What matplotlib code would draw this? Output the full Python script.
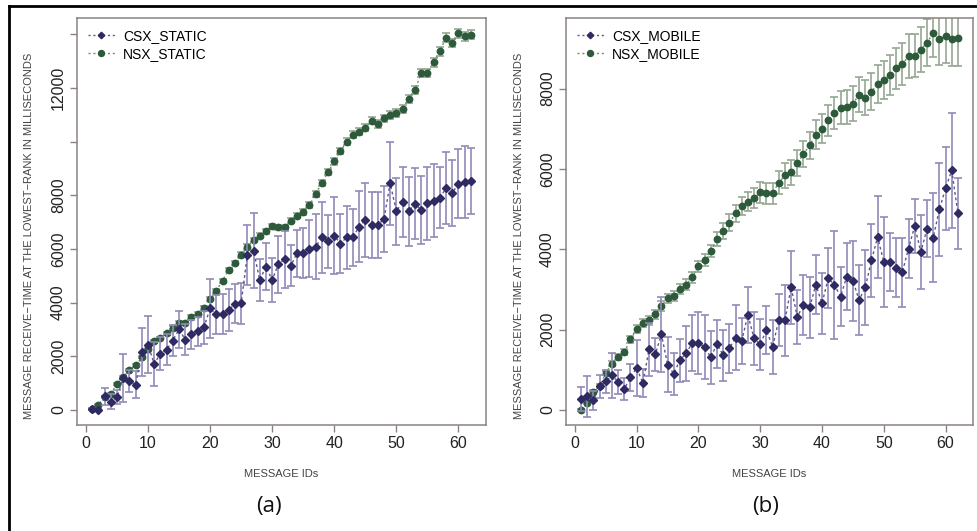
import matplotlib
matplotlib.use('Agg')
import matplotlib.pyplot as plt
from matplotlib.lines import Line2D

ids = list(range(1, 63))

csx_static = [40, 0, 500, 310, 475, 1180, 1085, 935, 2160, 2430,
              1710, 2100, 2250, 2585, 3000, 2620, 2810, 2935, 3080, 3780,
              3560, 3580, 3710, 3960, 3970, 5780, 5930, 4840, 5340, 4840,
              5430, 5620, 5370, 5840, 5840, 6000, 6080, 6430, 6280, 6490,
              6200, 6430, 6430, 6830, 7080, 6900, 6900, 7100, 8450, 7400,
              7740, 7400, 7680, 7450, 7700, 7800, 7900, 8260, 8080, 8430, 8490, 8540]
csx_static_err = [50, 50, 300, 270, 270, 900, 420, 500, 880, 1060,
                  810, 620, 560, 590, 700, 570, 530, 545, 620, 1085,
                  740, 740, 785, 730, 765, 1120, 1400, 770, 875, 830,
                  1060, 1060, 770, 875, 920, 1065, 1220, 1330, 1000, 1435,
                  1105, 1185, 1060, 1315, 1385, 1235, 1235, 1230, 1545, 1250,
                  1310, 1290, 1315, 1270, 1360, 1360, 1135, 1340, 1245, 1280, 1325, 1225]
nsx_static = [20, 200, 470, 600, 980, 1210, 1490, 1660, 1970, 2270,
              2550, 2680, 2850, 3060, 3240, 3250, 3460, 3590, 3810, 4130,
              4440, 4820, 5210, 5470, 5790, 6080, 6330, 6490, 6650, 6850,
              6800, 6800, 7050, 7240, 7370, 7640, 8050, 8450, 8860, 9260,
              9650, 9990, 10260, 10360, 10510, 10770, 10650, 10860, 10990, 11070,
              11210, 11600, 11920, 12550, 12550, 12950, 13360, 13860, 13670, 14040, 13920, 13980]
nsx_static_err = [30, 30, 30, 35, 35, 40, 40, 45, 45, 50,
                  50, 55, 55, 60, 60, 60, 65, 65, 70, 70,
                  75, 75, 80, 80, 85, 85, 90, 90, 95, 95,
                  100, 100, 100, 105, 105, 110, 110, 115, 115, 120,
                  120, 125, 125, 130, 130, 135, 135, 140, 140, 145,
                  145, 150, 150, 155, 155, 160, 160, 165, 165, 170, 170, 175]

csx_mobile = [275, 335, 240, 585, 710, 860, 695, 525, 810, 1045,
              670, 1505, 1380, 1880, 1130, 900, 1240, 1405, 1670, 1670,
              1565, 1310, 1645, 1360, 1530, 1800, 1715, 2365, 1780, 1630,
              1990, 1570, 2235, 2235, 3050, 2315, 2615, 2550, 3120, 2650,
              3275, 3120, 2820, 3320, 3220, 2735, 3050, 3720, 4305, 3680,
              3680, 3535, 3430, 4015, 4575, 3930, 4515, 4290, 4990, 5520, 5960, 4890]
csx_mobile_err = [305, 515, 240, 295, 290, 565, 290, 270, 335, 690,
                  355, 660, 420, 930, 685, 520, 535, 680, 695, 775,
                  800, 655, 590, 640, 600, 815, 570, 700, 665, 625,
                  605, 680, 655, 885, 910, 670, 740, 770, 735, 750,
                  750, 1345, 730, 830, 995, 860, 930, 920, 1030, 1120,
                  720, 735, 860, 740, 680, 920, 700, 1110, 1155, 1030, 1430, 880]
nsx_mobile = [0, 170, 445, 585, 920, 1155, 1320, 1445, 1755, 2025,
              2175, 2235, 2385, 2590, 2775, 2825, 3010, 3120, 3300, 3580,
              3740, 3955, 4265, 4455, 4665, 4890, 5075, 5185, 5265, 5420,
              5390, 5390, 5660, 5835, 5910, 6145, 6370, 6590, 6855, 7000,
              7205, 7385, 7525, 7540, 7625, 7845, 7775, 7920, 8110, 8210,
              8335, 8510, 8605, 8805, 8820, 8970, 9140, 9380, 9220, 9300, 9220, 9255]
nsx_mobile_err = [20, 30, 40, 50, 60, 70, 80, 80, 90, 100,
                  100, 110, 110, 120, 120, 125, 130, 130, 135, 135,
                  150, 160, 175, 190, 200, 215, 230, 240, 250, 265,
                  270, 270, 285, 300, 310, 320, 330, 340, 355, 365,
                  380, 395, 405, 415, 430, 440, 445, 455, 470, 480,
                  495, 510, 520, 540, 545, 560, 580, 600, 640, 660, 670, 685]

xticks = [0, 10, 20, 30, 40, 50, 60]
yticks_a = [0, 2000, 4000, 6000, 8000, 10000, 12000, 14000]
ylabels_a = ['0', '2000', '4000', '6000', '8000', '', '12000', '']
yticks_b = [0, 2000, 4000, 6000, 8000]
ylabels_b = ['0', '2000', '4000', '6000', '8000']

C_DARK = '#2e2a62'
C_DARK_ERR = '#9189b8'
C_GREEN = '#2d5a3a'
C_GREEN_ERR = '#96a892'
FRAME = '#8a8282'
RFONT = 'Liberation Sans'


def panel(ax, csx, csx_err, nsx, nsx_err, names, ylim, yticks, ylabels, tag, tag_x):
    ax.errorbar(ids, nsx, yerr=nsx_err, fmt='none', ecolor=C_GREEN_ERR,
                elinewidth=1.2, capsize=2.6, capthick=1.2, zorder=2)
    ax.plot(ids, nsx, linestyle=(0, (1.5, 2)), color='#6f8f74', lw=1.0, zorder=3)
    ax.plot(ids, nsx, 'o', color=C_GREEN, ms=4.6, mec=C_GREEN, zorder=4)
    ax.errorbar(ids, csx, yerr=csx_err, fmt='none', ecolor=C_DARK_ERR,
                elinewidth=1.2, capsize=2.6, capthick=1.2, zorder=5)
    ax.plot(ids, csx, linestyle=(0, (2, 2)), color='#5c5790', lw=1.0, zorder=6)
    ax.plot(ids, csx, 'D', color=C_DARK, ms=3.9, mec=C_DARK, zorder=7)

    ax.set_xlim(-1.44, 64.44)
    ax.set_ylim(*ylim)
    ax.set_xticks(xticks)
    ax.set_xticklabels([str(t) for t in xticks], fontsize=11.5, family=RFONT, color='#222222')
    ax.set_yticks(yticks)
    ax.set_yticklabels(ylabels, fontsize=11.5, family=RFONT, color='#222222',
                       rotation=90, va='center')
    ax.tick_params(direction='out', length=5, width=1, color=FRAME, pad=3)
    for s in ax.spines.values():
        s.set_color(FRAME)
        s.set_linewidth(1.1)
    ax.set_xlabel('MESSAGE IDs', fontsize=8, family=RFONT, color='#444444', labelpad=13)
    ax.set_ylabel('MESSAGE RECEIVE\u2212TIME AT THE LOWEST\u2212RANK IN MILLISECONDS',
                  fontsize=8, family=RFONT, color='#444444')
    ax.yaxis.set_label_coords(-0.104, 0.465)

    handles = [Line2D([], [], linestyle=(0, (1.5, 2)), color='#5c5790', lw=1.0,
                      marker='D', ms=3.3, mfc=C_DARK, mec=C_DARK),
               Line2D([], [], linestyle=(0, (1.5, 2)), color='#6f8f74', lw=1.0,
                      marker='o', ms=4.3, mfc=C_GREEN, mec=C_GREEN)]
    ax.legend(handles, names, loc='upper left', frameon=False, handlelength=1.9,
              handletextpad=0.6, labelspacing=0.3, borderaxespad=0.4,
              prop={'family': RFONT, 'size': 10})
    ax.text(tag_x, -0.2, tag, transform=ax.transAxes, ha='center', va='center',
            fontsize=16, family='Open Sans', color='#111111')


fig = plt.figure(figsize=(9.77, 5.31), dpi=100)
ax1 = fig.add_axes([77 / 977, 1 - 425 / 531, 409 / 977, 407 / 531])
ax2 = fig.add_axes([566 / 977, 1 - 425 / 531, 407 / 977, 407 / 531])

panel(ax1, csx_static, csx_static_err, nsx_static, nsx_static_err,
      ['CSX_STATIC', 'NSX_STATIC'], (-562, 14602), yticks_a, ylabels_a, '(a)', 0.47)
panel(ax2, csx_mobile, csx_mobile_err, nsx_mobile, nsx_mobile_err,
      ['CSX_MOBILE', 'NSX_MOBILE'], (-375, 9755), yticks_b, ylabels_b, '(b)', 0.49)

# black frame around the figure (top and left edges)
fig.add_artist(Line2D([9 / 977, 1], [1 - 6 / 531, 1 - 6 / 531], color='black', lw=2,
                      transform=fig.transFigure))
fig.add_artist(Line2D([9 / 977, 9 / 977], [0, 1 - 6 / 531], color='black', lw=2,
                      transform=fig.transFigure))

fig.savefig('out.png', dpi=100)
